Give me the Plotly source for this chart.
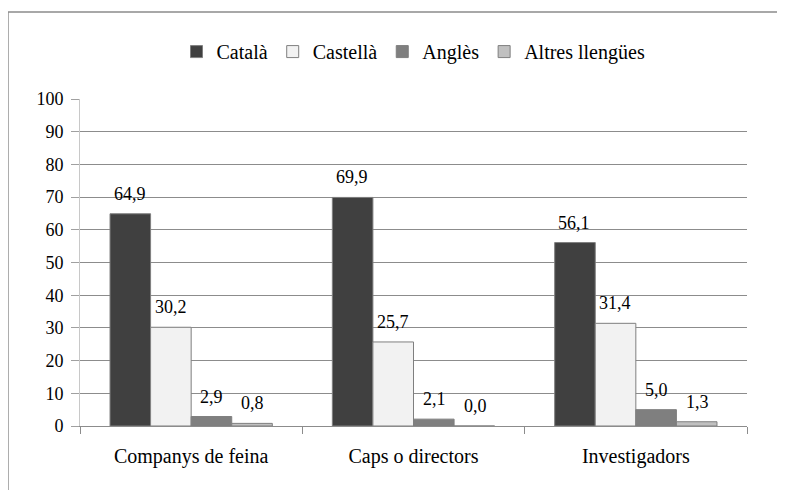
import plotly.graph_objects as go

# Dades
categories = ["Companys de feina", "Caps o directors", "Investigadors"]
catala = [64.9, 69.9, 56.1]
castella = [30.2, 25.7, 31.4]
angles = [2.9, 2.1, 5.0]
altres = [0.8, 0.0, 1.3]

series = [
    ("Català", catala, "#404040"),
    ("Castellà", castella, "#f2f2f2"),
    ("Anglès", angles, "#7f7f7f"),
    ("Altres llengües", altres, "#c0c0c0"),
]

FONT = "Liberation Serif"

fig = go.Figure()
for name, vals, col in series:
    fig.add_trace(go.Bar(
        x=categories, y=vals, name=name,
        marker=dict(color=col, line=dict(color="#7f7f7f", width=1)),
        offsetgroup=name,
    ))

# etiquetes de dades (a l'estil Excel, una mica per sobre de la barra)
bar_px = 41
for i, (name, vals, col) in enumerate(series):
    shift = (i - 1.5) * bar_px
    for cat, v in zip(categories, vals):
        fig.add_annotation(
            x=cat, y=v, text=f"{v:.1f}".replace(".", ","),
            xshift=shift, yshift=20, yanchor="middle", showarrow=False,
            font=dict(family=FONT, size=18, color="#000000"),
        )

fig.update_layout(
    width=785, height=490,
    margin=dict(l=72, r=46, t=91, b=72),
    paper_bgcolor="white", plot_bgcolor="white",
    barmode="group", bargap=0.27, bargroupgap=0,
    legend=dict(orientation="h", x=0.5, xanchor="center", y=1.145, yanchor="middle",
                font=dict(family=FONT, size=20, color="#000000"), itemwidth=30,
                traceorder="normal"),
    xaxis=dict(showline=True, linecolor="#8c8c8c", ticks="outside", tickson="boundaries",
               ticklen=7, tickcolor="#8c8c8c",
               tickfont=dict(family=FONT, size=20, color="#000000"),
               ticklabelstandoff=12),
    yaxis=dict(range=[0, 100], dtick=10, showgrid=True, gridcolor="#8c8c8c",
               showline=True, linecolor="#c8c8c8", ticks="outside", ticklen=8,
               tickcolor="#a0a0a0", tickfont=dict(family=FONT, size=18, color="#000000"),
               zeroline=False, ticklabelstandoff=4),
)

# marc exterior del gràfic
fig.add_shape(type="rect", xref="paper", yref="paper",
              x0=-0.108, x1=1.07, y0=-0.22, y1=1.266,
              line=dict(color="#8c8c8c", width=1.5), fillcolor="rgba(0,0,0,0)")

fig.write_html("out.html")
